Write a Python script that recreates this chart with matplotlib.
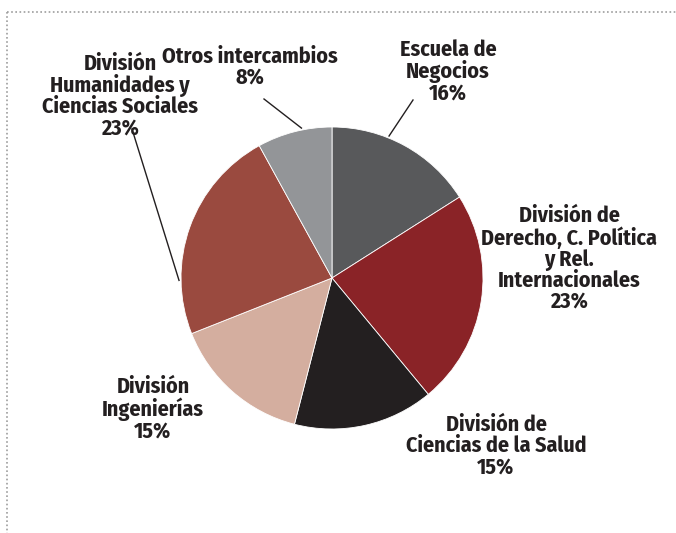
import numpy as np
import matplotlib.pyplot as plt
from matplotlib.lines import Line2D

labels = ["Escuela de\nNegocios", "División de\nDerecho, C. Política\ny Rel.\nInternacionales",
          "División de\nCiencias de la Salud", "División\nIngenierías",
          "División\nHumanidades y\nCiencias Sociales", "Otros intercambios"]
values = [16, 23, 15, 15, 23, 8]
colors = ["#58595b", "#8a2327", "#231f20", "#d4ae9f", "#9a4a3f", "#939598"]

W, H = 676, 533
cx, cy, r = 332, H - 278, 151

fig = plt.figure(figsize=(W / 100, H / 100), dpi=100)
ax = fig.add_axes([0, 0, 1, 1])

wedges, _ = ax.pie(values, colors=colors, startangle=90, counterclock=False,
                   center=(cx, cy), radius=r, frame=True,
                   wedgeprops=dict(linewidth=0.6, edgecolor="white"))
ax.set_xlim(0, W)
ax.set_ylim(0, H)
ax.set_aspect("equal")
ax.axis("off")

font = dict(family=["Fira Sans Condensed", "DejaVu Sans"], fontweight="bold",
            fontsize=15.8, color="#231f20", ha="center", va="center",
            linespacing=0.98)

# label centres in image pixels (x, y from top)
label_pos = [(448, 72), (569, 259), (496, 446), (153, 409), (120, 96), (250, 67)]
for lab, v, (tx, ty) in zip(labels, values, label_pos):
    ax.text(tx, H - ty, f"{lab}\n{v}%", **font)

# leader lines: (index, fraction within wedge, line start in image px)
leaders = [(0, 0.62, (413, 100)), (5, 0.4, (264, 99)), (4, 0.75, (132, 129))]
for i, frac, (sx, sy) in leaders:
    w = wedges[i]
    ang = np.deg2rad(w.theta1 + frac * (w.theta2 - w.theta1))
    ex, ey = cx + (r + 2) * np.cos(ang), cy + (r + 2) * np.sin(ang)
    ax.add_line(Line2D([sx, ex], [H - sy, ey], color="#231f20", lw=1.0))

# dotted frame on top and left
ax.add_line(Line2D([7, W], [H - 12, H - 12], color="#9d9d9d", lw=1.2, ls=(0, (1, 1.5))))
ax.add_line(Line2D([7, 7], [H - 12, 0], color="#9d9d9d", lw=1.2, ls=(0, (1, 1.5))))

fig.savefig("out.png", dpi=100)
